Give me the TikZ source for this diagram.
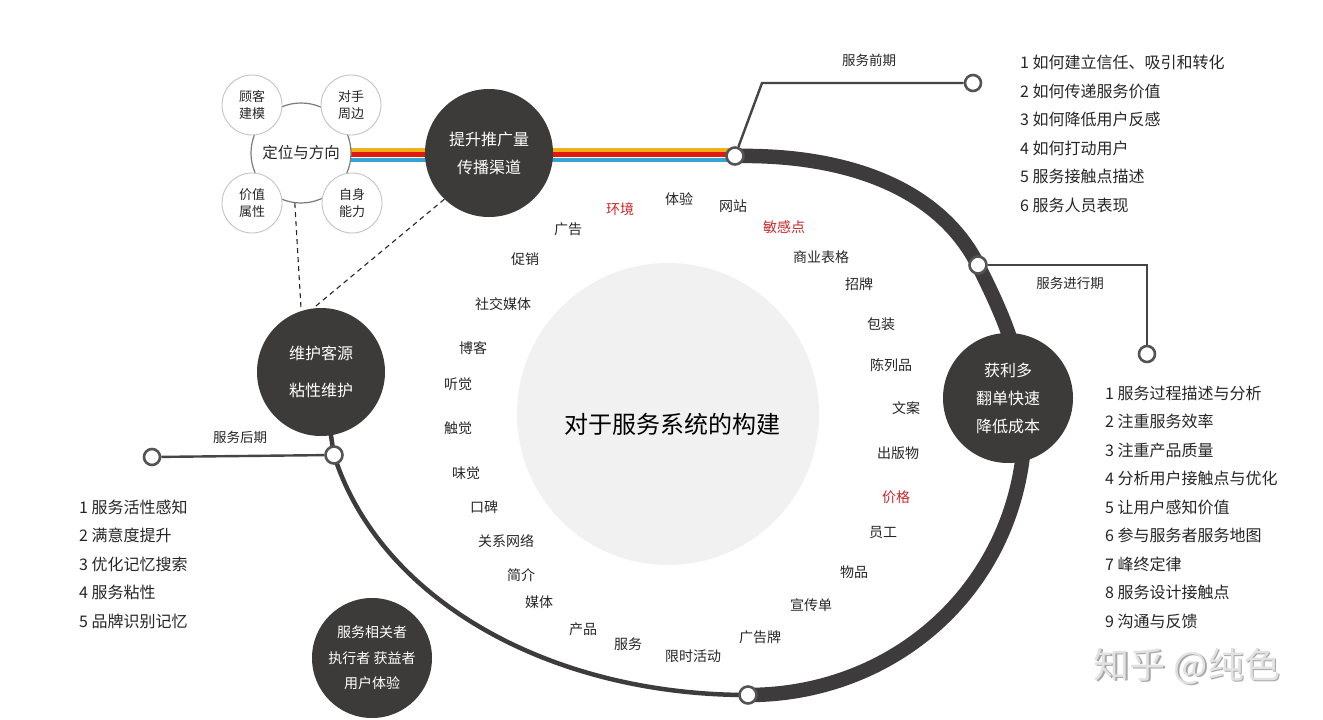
\documentclass[tikz,border=0pt]{standalone}
\usepackage{fontspec}
\setmainfont{Noto Sans CJK SC}
\definecolor{ballgray}{HTML}{3D3A3A}
\definecolor{ringcol}{HTML}{3D3B3B}
\definecolor{linecol}{HTML}{464444}
\definecolor{dotline}{HTML}{555353}
\definecolor{lightline}{HTML}{C4C4C4}
\definecolor{midline}{HTML}{7A7A7A}
\definecolor{txt}{HTML}{262626}
\definecolor{redtxt}{HTML}{C8282A}
\definecolor{corefill}{HTML}{F1F1F1}
\definecolor{stripeO}{HTML}{F2B01E}
\definecolor{stripeR}{HTML}{E11A0C}
\definecolor{stripeB}{HTML}{35A5D5}
\definecolor{markA}{HTML}{A8A8A8}
\definecolor{markB}{HTML}{E2E2E2}
\begin{document}
\begin{tikzpicture}[x=1pt,y=-1pt,
  darkball/.style={circle,fill=ballgray,text=white,inner sep=0pt,align=center},
  smallball/.style={circle,draw=lightline,line width=0.9pt,fill=white,minimum size=60pt,inner sep=0pt,align=center,font=\fontsize{13}{17}\selectfont,text=txt},
  ringdot/.style={circle,draw=dotline,line width=2.6pt,fill=white,minimum size=17pt,inner sep=0pt},
  enddot/.style={circle,draw=dotline,line width=2.6pt,fill=white,minimum size=16pt,inner sep=0pt},
  link/.style={draw=linecol,line width=2.4pt},
  arclab/.style={font=\fontsize{14}{16}\selectfont,text=txt,inner sep=0pt},
  redlab/.style={arclab,text=redtxt},
  phase/.style={font=\fontsize{13.5}{16}\selectfont,text=txt,inner sep=0pt},
  listtxt/.style={font=\fontsize{16}{28.5}\selectfont,text=txt,align=left,inner sep=0pt,anchor=west},
  dashlink/.style={draw=txt,line width=1.1pt,dash pattern=on 5pt off 4pt},
]
\useasboundingbox (0,0) rectangle (1323,720);
\fill[white] (0,0) rectangle (1323,720);

% core
\node[circle,fill=corefill,minimum size=302pt,inner sep=0pt] (core) at (668,414) {};
\node[font=\fontsize{24}{28}\selectfont,text=black,inner sep=0pt] (title) at (672,424) {对于服务系统的构建};

% ring positions
\coordinate (qA) at (735,156);
\coordinate (qB) at (978,265);
\coordinate (qC) at (748,695);
\coordinate (qD) at (334,455);
\coordinate (weihuC) at (321,372);

% stripes
\draw[stripeO,line width=4.2pt] (300,149.9) -- (735,149.9);
\draw[stripeR,line width=5pt] (300,154.6) -- (735,154.6);
\draw[stripeB,line width=4.2pt] (300,159.9) -- (735,159.9);

% thick ring
\draw[ringcol,line width=14.5pt] (qA) .. controls (850,154) and (940,190) .. (qB)
  .. controls (998,305) and (1025,360) .. (1025,420)
  .. controls (1025,580) and (900,695) .. (qC);
% thin ring
\draw[ringcol,line width=4.5pt] (qC) .. controls (550,695) and (380,600) .. (qD) -- (weihuC);

% big dark balls
\node[darkball,minimum size=128pt,font=\fontsize{16}{28}\selectfont] (tuiguang) at (489,153) {提升推广量\\传播渠道};
\node[darkball,minimum size=128pt,font=\fontsize{16}{37}\selectfont] (weihu) at (weihuC) {维护客源\\粘性维护};
\node[darkball,minimum size=130pt,font=\fontsize{16}{28}\selectfont] (huoli) at (1008,398) {获利多\\翻单快速\\降低成本};
\node[darkball,minimum size=120pt,font=\fontsize{14}{25.5}\selectfont] (xiangguan) at (372,658) {服务相关者\\执行者 获益者\\用户体验};

% positioning cluster
\node[circle,draw=midline,line width=1.2pt,fill=white,minimum size=100pt,inner sep=0pt,font=\fontsize{15.5}{18}\selectfont,text=txt] (dingwei) at (301,153) {定位与方向};
\node[smallball] (guke) at (252,105) {顾客\\建模};
\node[smallball] (duishou) at (351,105) {对手\\周边};
\node[smallball] (jiazhi) at (252,203) {价值\\属性};
\node[smallball] (zishen) at (352,203) {自身\\能力};

% dashed links
\draw[dashlink] (dingwei.-97) -- (weihu.108);
\draw[dashlink] (tuiguang.-134) -- (weihu.97);

% ring dots
\node[ringdot] (nA) at (qA) {};
\node[ringdot] (nB) at (qB) {};
\node[ringdot] (nC) at (qC) {};
\node[ringdot] (nD) at (qD) {};

% phase connectors
\coordinate (bendA) at (762,83);
\node[enddot] (tA) at (973,83) {};
\draw[link] (nA) -- (bendA) -- (tA);
\node[phase] (phA) at (869,60) {服务前期};

\coordinate (bendB) at (1147,265);
\node[enddot] (tB) at (1147,354) {};
\draw[link] (nB) -- (bendB) -- (tB);
\node[phase] (phB) at (1070,283) {服务进行期};

\node[enddot] (tD) at (152,457) {};
\draw[link] (nD) -- (tD);
\node[phase] (phD) at (240,437) {服务后期};

% lists
\node[listtxt] (listA) at (1020,134) {1 如何建立信任、吸引和转化\\2 如何传递服务价值\\3 如何降低用户反感\\4 如何打动用户\\5 服务接触点描述\\6 服务人员表现};
\node[listtxt] (listB) at (1105,507) {1 服务过程描述与分析\\2 注重服务效率\\3 注重产品质量\\4 分析用户接触点与优化\\5 让用户感知价值\\6 参与服务者服务地图\\7 峰终定律\\8 服务设计接触点\\9 沟通与反馈};
\node[listtxt] (listD) at (79,564) {1 服务活性感知\\2 满意度提升\\3 优化记忆搜索\\4 服务粘性\\5 品牌识别记忆};

% arc labels
\node[redlab] (l1) at (620,209) {环境};
\node[arclab] (l2) at (679,199) {体验};
\node[arclab] (l3) at (733,206) {网站};
\node[redlab] (l4) at (784,227) {敏感点};
\node[arclab] (l5) at (568,229) {广告};
\node[arclab] (l6) at (525,259) {促销};
\node[arclab] (l7) at (821,257) {商业表格};
\node[arclab] (l8) at (859,284) {招牌};
\node[arclab] (l9) at (503,304) {社交媒体};
\node[arclab] (l10) at (881,324) {包装};
\node[arclab] (l11) at (473,348) {博客};
\node[arclab] (l12) at (891,365) {陈列品};
\node[arclab] (l13) at (458,384) {听觉};
\node[arclab] (l14) at (906,408) {文案};
\node[arclab] (l15) at (458,428) {触觉};
\node[arclab] (l16) at (898,453) {出版物};
\node[arclab] (l17) at (466,473) {味觉};
\node[redlab] (l18) at (896,497) {价格};
\node[arclab] (l19) at (484,507) {口碑};
\node[arclab] (l20) at (883,533) {员工};
\node[arclab] (l21) at (506,541) {关系网络};
\node[arclab] (l22) at (854,572) {物品};
\node[arclab] (l23) at (521,575) {简介};
\node[arclab] (l24) at (811,605) {宣传单};
\node[arclab] (l25) at (539,602) {媒体};
\node[arclab] (l26) at (583,629) {产品};
\node[arclab] (l27) at (628,644) {服务};
\node[arclab] (l28) at (693,656) {限时活动};
\node[arclab] (l29) at (760,637) {广告牌};

% corner mark
\node[font=\fontsize{36}{40}\selectfont,text=markA,inner sep=0pt] (zhS) at (1188.2,667.2) {知乎 @纯色};
\node[font=\fontsize{36}{40}\selectfont,text=markB,inner sep=0pt] (zhF) at (1187,666) {知乎 @纯色};
\end{tikzpicture}
\end{document}
